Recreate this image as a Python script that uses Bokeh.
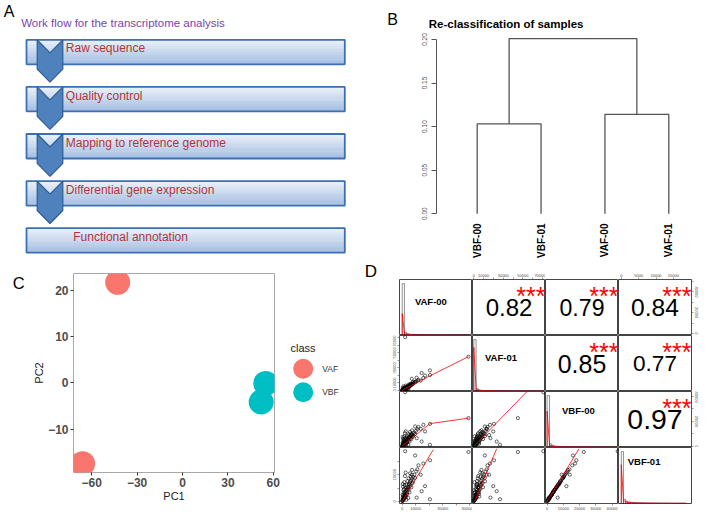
import math
from bokeh.plotting import figure
from bokeh.layouts import row, column, gridplot
from bokeh.models import Range1d, FixedTicker, LinearAxis, PrintfTickFormatter
from bokeh.core.properties import value
from bokeh.embed import file_html
from bokeh.resources import INLINE

FONT = "Liberation Sans"

# ---------------- Panel A data ----------------
workflow_title = "Work flow for the transcriptome analysis"
workflow_steps = ["Raw sequence", "Quality control", "Mapping to reference genome",
                  "Differential gene expression", "Functional annotation"]

# ---------------- Panel B data ----------------
dendro_title = "Re-classification of samples"
leaves = ["VBF-00", "VBF-01", "VAF-00", "VAF-01"]
merge_left = [0, 2, 4]
merge_right = [1, 3, 5]
merge_height = [0.103, 0.114, 0.201]
height_ticks = [0.0, 0.05, 0.10, 0.15, 0.20]

# ---------------- Panel C data ----------------
pc_class = ["VAF", "VAF", "VBF", "VBF"]
pc1 = [-42.8, -66.0, 55.0, 52.0]
pc2 = [21.7, -17.4, -0.1, -4.1]
classes = ["VAF", "VBF"]
class_colors = ["#F8766D", "#00BFC4"]
pc1_ticks = [-60, -30, 0, 30, 60]
pc2_ticks = [-10, 0, 10, 20]

# ---------------- Panel D data ----------------
samples = ["VAF-00", "VAF-01", "VBF-00", "VBF-01"]
VAF_00 = [200, 500, 800, 1000, 1300, 1600, 1900, 2200, 2500, 2800, 3100, 3400, 3700, 4000, 4400,
          4800, 5200, 5600, 6000, 6500, 7000, 7600, 8200, 8900, 9500, 10300, 11200, 12000, 300,
          1000, 600, 1500, 2000, 400, 3000, 4500, 900, 2600, 20500, 14400, 16900, 20600, 15650,
          9550, 10700, 13700, 7100, 49000, 2200, 100, 150, 700, 1200, 2000,
          300, 700, 1100, 1400, 1800, 2100, 2400, 2700, 3300, 3600, 3900, 4200, 4700, 5000, 5400,
          5800, 6300, 6800, 7300, 8000]
VAF_01 = [300, 600, 1000, 1200, 1500, 1800, 2400, 2600, 3000, 3100, 3800, 3600, 4400, 4900, 5000,
          5600, 6200, 6000, 7100, 7400, 8300, 8800, 9600, 10100, 11200, 12000, 13100, 14000, 1500,
          400, 2500, 800, 4500, 3500, 1200, 2000, 5500, 6500, 26700, 23300, 19800, 20600, 16500,
          11300, 17000, 13100, 15600, 44900, 70800, 100, 400, 300, 2000, 1600,
          700, 1300, 900, 2200, 3200, 1100, 2800, 4200, 2600, 5200, 3300, 6600, 4100, 7800, 5300,
          8600, 6800, 9400, 7800, 11500]
VBF_00 = [200, 700, 1100, 900, 1600, 2200, 1800, 2900, 3400, 2500, 4000, 4800, 3500, 5500, 6100,
          4600, 7000, 7800, 6400, 8600, 9300, 7500, 10200, 11000, 9800, 12500, 13800, 15500, 3000,
          4500, 6000, 8000, 10500, 7500, 500, 1000, 2000, 12000, 1200, 3800, 11900, 18000, 17200,
          15900, 6500, 14000, 9000, 22600, 43500, 100, 300, 500, 1300, 2600,
          1500, 2500, 3500, 5000, 6500, 4000, 1500, 5500, 6800, 3000, 8200, 5200, 9500, 7200, 3800,
          11500, 9900, 5800, 12800, 8300]
VBF_01 = [200, 600, 900, 800, 1400, 2000, 1700, 2600, 3100, 2200, 3600, 4400, 3300, 5000, 5400,
          4300, 6300, 7100, 5900, 7700, 8500, 6900, 9100, 10000, 8800, 11200, 12000, 13500, 2500,
          4200, 5500, 7200, 9500, 6500, 600, 1300, 1800, 10800, 800, 3800, 5700, 15400, 14200,
          17200, 1400, 10000, 10000, 18500, 18800, 100, 250, 450, 1100, 2300,
          1300, 2200, 3200, 4600, 6000, 3500, 1400, 5100, 6200, 2700, 7600, 4700, 8600, 6500, 3400,
          10500, 9200, 5300, 11800, 7500]

# histogram (relative density, 30 bins from 0 to max) and density curve (x=0 start + bin edges)
VAF_00_hist = [100, 6, 3.5, 2.5, 2, 1.8, 1.6, 1.5, 1.4, 1.3, 1.2, 1.2, 1.1, 1.1, 1.0,
               1.0, 1.0, 0.9, 0.9, 0.9, 0.8, 0.8, 0.8, 0.8, 0.7, 0.7, 0.7, 0.7, 0.6, 0.6]
VAF_01_hist = [100, 5, 3, 2.2, 1.8, 1.6, 1.5, 1.4, 1.3, 1.2, 1.2, 1.1, 1.1, 1.0, 1.0,
               1.0, 0.9, 0.9, 0.9, 0.8, 0.8, 0.8, 0.8, 0.7, 0.7, 0.7, 0.7, 0.6, 0.6, 0.6]
VBF_00_hist = [100, 7, 4, 2.8, 2.2, 1.9, 1.7, 1.5, 1.4, 1.3, 1.2, 1.2, 1.1, 1.1, 1.0,
               1.0, 1.0, 0.9, 0.9, 0.9, 0.8, 0.8, 0.8, 0.8, 0.7, 0.7, 0.7, 0.7, 0.6, 0.6]
VBF_01_hist = [100, 8, 4.5, 3, 2.4, 2, 1.8, 1.6, 1.5, 1.4, 1.3, 1.2, 1.2, 1.1, 1.1,
               1.0, 1.0, 1.0, 0.9, 0.9, 0.9, 0.8, 0.8, 0.8, 0.8, 0.7, 0.7, 0.7, 0.7, 0.6]
VAF_00_dens = [0, 42, 4, 2.2, 1.6, 1.3, 1.1, 1.0, 0.9, 0.9, 0.8, 0.8, 0.7, 0.7, 0.7, 0.6,
               0.6, 0.6, 0.6, 0.5, 0.5, 0.5, 0.5, 0.5, 0.4, 0.4, 0.4, 0.4, 0.4, 0.4, 0.4, 0.4]
VAF_01_dens = [0, 85, 5, 2.5, 1.8, 1.4, 1.2, 1.0, 0.9, 0.9, 0.8, 0.8, 0.7, 0.7, 0.7, 0.6,
               0.6, 0.6, 0.6, 0.5, 0.5, 0.5, 0.5, 0.5, 0.4, 0.4, 0.4, 0.4, 0.4, 0.4, 0.4, 0.4]
VBF_00_dens = [0, 70, 5, 2.5, 1.8, 1.4, 1.2, 1.0, 0.9, 0.9, 0.8, 0.8, 0.7, 0.7, 0.7, 0.6,
               0.6, 0.6, 0.6, 0.5, 0.5, 0.5, 0.5, 0.5, 0.4, 0.4, 0.4, 0.4, 0.4, 0.4, 0.4, 0.4]
VBF_01_dens = [0, 75, 6, 3, 2, 1.6, 1.3, 1.1, 1.0, 0.9, 0.8, 0.8, 0.7, 0.7, 0.7, 0.6,
               0.6, 0.6, 0.6, 0.5, 0.5, 0.5, 0.5, 0.5, 0.4, 0.4, 0.4, 0.4, 0.4, 0.4, 0.4, 0.4]

# correlations (upper panels)
corr_pairs = [(0, 1), (0, 2), (0, 3), (1, 2), (1, 3), (2, 3)]
corr_values = [0.82, 0.79, 0.84, 0.85, 0.77, 0.97]
corr_stars = ["***", "***", "***", "***", "***", "***"]

# lowess smooth lines (lower panels), keyed (row, col): x = sample col, y = sample row
smooth_pairs = [(1, 0), (2, 0), (2, 1), (3, 0), (3, 1), (3, 2)]
smooth_x = [[0, 20000, 49000], [0, 20600, 49000], [0, 30000, 54200],
            [0, 10000, 23000], [1000, 12000, 23300], [0, 10000, 19600]]
smooth_y = [[300, 19000, 44900], [300, 18200, 22600], [0, 24300, 44000],
            [0, 8400, 19400], [0, 10000, 19700], [0, 10000, 19700]]

# axis scales, ticks and tick labels of each sample (horizontal / vertical axes)
sample_range = [(-2000, 52000), (-1300, 73000), (-1000, 44000), (-800, 20200)]
sample_ticks = [[0, 10000, 20000, 30000, 40000, 50000],
                [0, 10000, 20000, 30000, 40000, 50000, 60000, 70000],
                [0, 10000, 20000, 30000, 40000],
                [0, 5000, 10000, 15000]]
sample_labels_h = [["0", "10000", "", "30000", "", "50000"],
                   ["0", "10000", "", "30000", "", "50000", "", "70000"],
                   ["0", "10000", "20000", "30000", "40000"],
                   ["0", "5000", "10000", "15000"]]
sample_labels_v = [["0", "", "20000", "", "40000", ""],
                   ["0", "10000", "", "30000", "", "50000", "", "70000"],
                   ["0", "", "20000", "", "40000"],
                   ["0", "", "10000", ""]]

data = [VAF_00, VAF_01, VBF_00, VBF_01]
hists = [VAF_00_hist, VAF_01_hist, VBF_00_hist, VBF_01_hist]
denss = [VAF_00_dens, VAF_01_dens, VBF_00_dens, VBF_01_dens]


def mkfig(**kw):
    kw.setdefault("toolbar_location", None)
    kw.setdefault("output_backend", "svg")
    try:
        return figure(frame_align=False, **kw)
    except Exception:
        return figure(**kw)


def pixel_fig(w, h):
    """A figure whose frame is the whole canvas, in pixel units (y downwards)."""
    return mkfig(width=w, height=h, x_range=Range1d(0, w), y_range=Range1d(h, 0),
                 x_axis_type=None, y_axis_type=None, min_border=0, outline_line_color=None)


def put_text(fig, x, y, text, size, bold=False, color="black", align="center"):
    fig.text(x=[x], y=[y], text=[text], text_font=value(FONT), text_font_size=size,
             text_font_style="bold" if bold else "normal", text_color=color,
             text_align=align, text_baseline="middle")


def ramp(c0, c1, t):
    return "#%02x%02x%02x" % tuple(int(round(a + (b - a) * t)) for a, b in zip(c0, c1))


# ======================= Panel A =======================
pa = pixel_fig(360, 260)
BOX_L, BOX_R, BOX_T0, BOX_STEP, BOX_H = 26.0, 344.3, 39.3, 47.1, 24.5
CH_L, CH_R, CH_NOTCH, CH_SIDE, CH_TIP = 36.7, 62.3, 13.0, 29.4, 42.4
NSTRIPE = 10
n_steps = len(workflow_steps)
box_tops = [BOX_T0 + i * BOX_STEP for i in range(n_steps)]
sl, sr, st, sb, scol = [], [], [], [], []
for t in box_tops:
    for k in range(NSTRIPE):
        st.append(t + k * BOX_H / NSTRIPE)
        sb.append(t + (k + 1) * BOX_H / NSTRIPE + 0.4)
        sl.append(BOX_L)
        sr.append(BOX_R)
        scol.append(ramp((0xe8, 0xef, 0xf9), (0xa6, 0xbf, 0xe2), k / (NSTRIPE - 1)))
pa.quad(left=sl, right=sr, top=st, bottom=sb, fill_color=scol, line_color=None)
pa.quad(left=[BOX_L] * n_steps, right=[BOX_R] * n_steps, top=box_tops,
        bottom=[t + BOX_H for t in box_tops], fill_color=None, line_color="#3d70b2", line_width=1.8)
mid = (CH_L + CH_R) / 2
ch_xs, ch_ys = [], []
for t in box_tops[:-1]:
    ch_xs.append([CH_L, mid, CH_R, CH_R, mid, CH_L])
    ch_ys.append([t, t + CH_NOTCH, t, t + CH_SIDE, t + CH_TIP, t + CH_SIDE])
pa.patches(ch_xs, ch_ys, fill_color="#4f81bd", line_color="#2d5c93", line_width=1.2)
text_x = [CH_R + 3] * (n_steps - 1) + [BOX_L + 46.7]
pa.text(x=text_x, y=[t + 8.6 for t in box_tops], text=workflow_steps,
        text_font=value(FONT), text_font_size="12px", text_color="#b0353a",
        text_align="left", text_baseline="middle")
put_text(pa, 20.7, 22.7, workflow_title, "11.5px", color="#7b3fb5", align="left")
put_text(pa, 8.5, 11.0, "A", "16px")

# ======================= Panel B =======================
pbh = pixel_fig(349, 30)
put_text(pbh, 32.0, 18.8, "B", "16px")
put_text(pbh, 68.3, 23.8, dendro_title, "11.5px", bold=True, align="left")

pb = mkfig(width=349, height=230, x_range=Range1d(0.363, 4.637), y_range=Range1d(-0.0033, 0.2103),
           min_border_left=76, min_border_right=0, min_border_top=0, min_border_bottom=37,
           outline_line_color=None)
pb.grid.visible = False
node_x = [float(i + 1) for i in range(len(leaves))]
node_h = [0.0] * len(leaves)
seg_xs, seg_ys = [], []
for l, r, h in zip(merge_left, merge_right, merge_height):
    xl, xr = node_x[l], node_x[r]
    seg_xs.append([xl, xl, xr, xr])
    seg_ys.append([node_h[l], h, h, node_h[r]])
    node_x.append((xl + xr) / 2)
    node_h.append(h)
pb.multi_line(seg_xs, seg_ys, line_color="#555555", line_width=1.3)
yb = pb.yaxis[0]
yb.ticker = FixedTicker(ticks=height_ticks)
yb.formatter = PrintfTickFormatter(format="%.2f")
yb.bounds = (height_ticks[0], height_ticks[-1])
yb.major_label_orientation = "parallel"
yb.major_label_text_font = FONT
yb.major_label_text_font_size = "6.5px"
yb.major_label_text_color = "#555555"
yb.major_label_standoff = 4
yb.axis_line_color = "#555555"
yb.major_tick_line_color = "#555555"
yb.major_tick_in = 0
yb.major_tick_out = 5
yb.minor_tick_line_color = None
xb = pb.xaxis[0]
xb.ticker = FixedTicker(ticks=[i + 1 for i in range(len(leaves))])
xb.major_label_overrides = {i + 1: name for i, name in enumerate(leaves)}
xb.major_label_orientation = math.pi / 2
xb.major_label_text_font = FONT
xb.major_label_text_font_style = "bold"
xb.major_label_text_font_size = "10px"
xb.major_label_text_color = "black"
xb.major_label_standoff = 1
xb.axis_line_color = None
xb.major_tick_line_color = None
xb.minor_tick_line_color = None

# ======================= Panel C =======================
pcs = pixel_fig(30, 258)
put_text(pcs, 18.3, 22.0, "C", "16.5px")

pc = mkfig(width=254, height=258, x_range=Range1d(-72.0, 60.8), y_range=Range1d(-19.3, 23.6),
           min_border_left=37, min_border_right=10, min_border_top=13, min_border_bottom=46,
           outline_line_color="#a8a8a8", outline_line_width=1)
pc.grid.visible = False
color_of = dict(zip(classes, class_colors))
pc.scatter(pc1, pc2, size=25, fill_color=[color_of[c] for c in pc_class], line_color=None)
for ax, ticks, lab in ((pc.xaxis[0], pc1_ticks, "PC1"), (pc.yaxis[0], pc2_ticks, "PC2")):
    ax.ticker = FixedTicker(ticks=ticks)
    ax.axis_label = lab
    ax.axis_label_text_font = FONT
    ax.axis_label_text_font_style = "normal"
    ax.axis_label_text_font_size = "11px"
    ax.axis_label_text_color = "#222222"
    ax.axis_label_standoff = 0
    ax.major_label_text_font = FONT
    ax.major_label_text_font_style = "bold"
    ax.major_label_text_font_size = "12px"
    ax.major_label_text_color = "#4d4d4d"
    ax.major_label_standoff = 2
    ax.axis_line_color = None
    ax.major_tick_line_color = "#333333"
    ax.major_tick_in = 0
    ax.major_tick_out = 3
    ax.minor_tick_line_color = None

pcl = pixel_fig(76, 258)
leg_y = [108.3 + 23.4 * i for i in range(len(classes))]
pcl.scatter([18.7] * len(classes), leg_y, size=20, fill_color=class_colors, line_color=None)
pcl.text(x=[37.7] * len(classes), y=leg_y, text=classes, text_font=value(FONT),
         text_font_size="8.5px", text_color="#333333", text_align="left", text_baseline="middle")
put_text(pcl, 6.0, 87.3, "class", "11px", color="#222222", align="left")

# ======================= Panel D =======================
pds = pixel_fig(25, 258)
put_text(pds, 10.5, 11.0, "D", "17px")

CELL_W, CELL_H = 73, 56
D_LEFT, D_RIGHT, D_TOP, D_BOTTOM = 14, 18, 19, 15
DIAG_FX = [0.43, 0.39, 0.45, 0.35]
DIAG_FY = [0.60, 0.60, 0.66, 0.75]
corr_of = {p: (v, s) for p, v, s in zip(corr_pairs, corr_values, corr_stars)}
smooth_of = {p: (xs, ys) for p, xs, ys in zip(smooth_pairs, smooth_x, smooth_y)}


def tiny_axis(i, vertical):
    ticks = sample_ticks[i]
    labels = sample_labels_v[i] if vertical else sample_labels_h[i]
    return LinearAxis(ticker=FixedTicker(ticks=ticks),
                      major_label_overrides=dict(zip(ticks, labels)),
                      bounds=(ticks[0], ticks[-1]), axis_line_color="#555555", axis_line_width=0.6,
                      major_tick_line_color="#555555", major_tick_line_width=0.6,
                      major_tick_in=0, major_tick_out=2, minor_tick_line_color=None,
                      major_label_text_font=FONT, major_label_text_font_size="4px",
                      major_label_text_color="#444444", major_label_standoff=1,
                      major_label_orientation="parallel" if vertical else "horizontal")


grid = []
for r in range(4):
    row_figs = []
    for c in range(4):
        w = CELL_W + (D_LEFT if c == 0 else 0) + (D_RIGHT if c == 3 else 0)
        h = CELL_H + (D_TOP if r == 0 else 0) + (D_BOTTOM if r == 3 else 0)
        y_rng = Range1d(0, 108) if r == c else Range1d(*sample_range[r])
        f = mkfig(width=w, height=h, x_range=Range1d(*sample_range[c]), y_range=y_rng,
                  x_axis_type=None, y_axis_type=None, min_border=0,
                  min_border_left=D_LEFT if c == 0 else 0, min_border_right=D_RIGHT if c == 3 else 0,
                  min_border_top=D_TOP if r == 0 else 0, min_border_bottom=D_BOTTOM if r == 3 else 0,
                  outline_line_color="#444444", outline_line_width=1)
        x0, x1 = sample_range[c]
        if r == c:
            hv = hists[r]
            dv = denss[r]
            top = max(data[r])
            bw = top / len(hv)
            edges = [k * bw for k in range(len(hv) + 1)]
            f.quad(left=edges[:-1], right=edges[1:], bottom=[0] * len(hv), top=hv,
                   fill_color=None, line_color="#222222", line_width=0.5)
            f.line([edges[0]] + edges, dv, line_color="red", line_width=0.8)
            f.text(x=[x0 + DIAG_FX[r] * (x1 - x0)], y=[DIAG_FY[r] * 108], text=[samples[r]],
                   text_font=value(FONT), text_font_style="bold", text_font_size="9.5px",
                   text_color="black", text_align="center", text_baseline="middle")
        elif r < c:
            v, s = corr_of[(r, c)]
            y0, y1 = sample_range[r]
            f.text(x=[(x0 + x1) / 2], y=[(y0 + y1) / 2], text=["%.2f" % v],
                   text_font=value(FONT), text_font_size="%.1fpx" % (29.3 * v),
                   text_color="black", text_align="center", text_baseline="middle")
            f.text(x=[x1], y=[y0 + 0.70 * (y1 - y0)], text=[s], text_font=value(FONT),
                   text_font_size="25px", text_color="red", text_align="right", text_baseline="middle")
        else:
            f.scatter(data[c], data[r], marker="circle", size=3.2, fill_color=None,
                      line_color="black", line_width=0.6)
            sx, sy = smooth_of[(r, c)]
            f.line(sx, sy, line_color="red", line_width=0.8)
        if r == 0 and c in (1, 3):
            f.add_layout(tiny_axis(c, False), "above")
        if r == 3 and c in (0, 2):
            f.add_layout(tiny_axis(c, False), "below")
        if c == 0 and r in (1, 3):
            f.add_layout(tiny_axis(r, True), "left")
        if c == 3 and r in (0, 2):
            f.add_layout(tiny_axis(r, True), "right")
        row_figs.append(f)
    grid.append(row_figs)

pd_grid = gridplot(grid, toolbar_location=None)

layout = column(row(pa, column(pbh, pb)), row(pcs, pc, pcl, pds, pd_grid))
open("out.html", "w").write(file_html(layout, INLINE))
